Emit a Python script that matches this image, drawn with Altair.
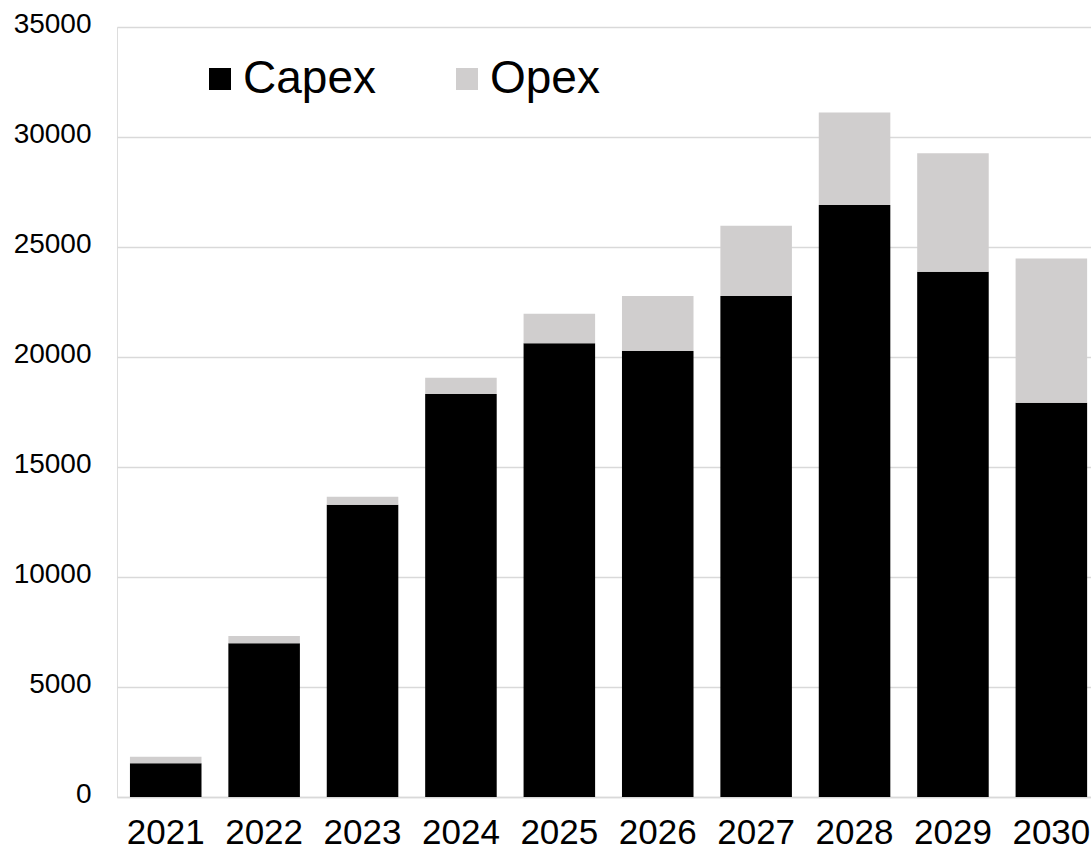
import altair as alt
import pandas as pd

years = ["2021", "2022", "2023", "2024", "2025", "2026", "2027", "2028", "2029", "2030"]
capex = [1530, 6990, 13280, 18320, 20620, 20270, 22770, 26910, 23880, 17920]
opex = [300, 330, 370, 740, 1350, 2500, 3200, 4200, 5380, 6560]
series = ["Capex", "Opex"]
colors = ["#000000", "#d0cece"]

rows = []
for i, y in enumerate(years):
    rows.append({"year": y, "series": "Capex", "value": capex[i], "ord": 0})
    rows.append({"year": y, "series": "Opex", "value": opex[i], "ord": 1})
df = pd.DataFrame(rows)

FONT = "Liberation Sans"

chart = alt.Chart(df).mark_bar().encode(
    x=alt.X("year:N", title=None, sort=years,
            scale=alt.Scale(paddingInner=0.273, paddingOuter=0.0855, align=0.77),
            axis=alt.Axis(labelAngle=0, labelFontSize=35, labelFont=FONT, labelColor="#000000",
                          domain=True, domainColor="#d9d9d9", domainWidth=1.3,
                          ticks=False, labelPadding=18, grid=False)),
    y=alt.Y("value:Q", title=None, stack="zero",
            scale=alt.Scale(domain=[0, 35000], nice=False),
            axis=alt.Axis(values=[0, 5000, 10000, 15000, 20000, 25000, 30000, 35000],
                          format="d", labelFontSize=28, labelFont=FONT, labelColor="#000000",
                          domain=False, ticks=False, labelPadding=26, labelOffset=-3,
                          grid=True, gridColor="#d9d9d9", gridWidth=1.3)),
    color=alt.Color("series:N", scale=alt.Scale(domain=series, range=colors),
                    legend=alt.Legend(title=None, orient="none", direction="horizontal",
                                      legendX=80, legendY=29, padding=0,
                                      symbolType="square", symbolSize=484,
                                      symbolStrokeWidth=0, labelFontSize=46, labelFont=FONT,
                                      labelColor="#000000", labelOffset=0, columnPadding=68,
                                      labelLimit=400)),
    order=alt.Order("ord:Q", sort="ascending"),
).properties(
    width=974, height=770,
    autosize=alt.AutoSizeParams(type="none"),
    padding={"left": 117, "top": 27, "right": 0, "bottom": 52},
).configure_view(stroke=None).configure(background="#ffffff")

chart.save("out.html", embed_options={"renderer": "svg", "actions": False})
